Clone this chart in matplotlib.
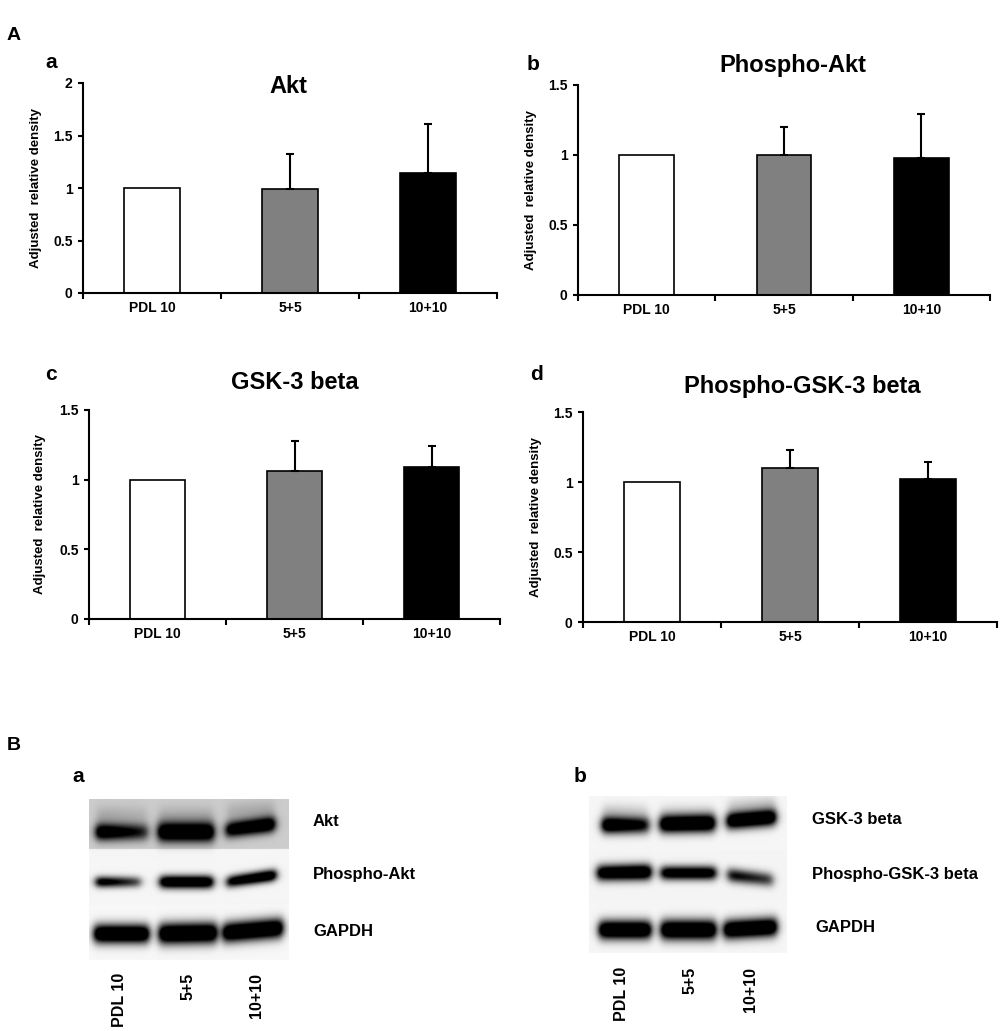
import numpy as np
import matplotlib
matplotlib.use('Agg')
import matplotlib.pyplot as plt
from matplotlib.ticker import FuncFormatter

plt.rcParams['font.family'] = ['Liberation Sans', 'DejaVu Sans']
plt.rcParams['font.weight'] = 'bold'

W, H = 1000, 1031

# ---- densitometry data (mean, upper error) ----
groups = ['PDL 10', '5+5', '10+10']
akt = [1.00, 0.99, 1.14]
akt_sd = [0, 0.33, 0.47]
p_akt = [1.00, 1.00, 0.98]
p_akt_sd = [0, 0.20, 0.31]
gsk = [1.00, 1.06, 1.09]
gsk_sd = [0, 0.22, 0.155]
p_gsk = [1.00, 1.10, 1.02]
p_gsk_sd = [0, 0.13, 0.125]

bar_colors = ['white', '#808080', 'black']

# ---- western blot band darkness (left end, right end) per lane ----
blot_a_labels = ['Akt', 'Phospho-Akt', 'GAPDH']
blot_b_labels = ['GSK-3 beta', 'Phospho-GSK-3 beta', 'GAPDH']
akt_band = [(1.0, 0.55), (1.0, 1.0), (0.9, 1.0)]
p_akt_band = [(0.85, 0.45), (0.95, 0.95), (0.8, 1.0)]
gapdh_a_band = [(1.0, 1.0), (1.0, 1.0), (1.0, 1.0)]
gsk_band = [(1.0, 0.7), (1.0, 1.0), (1.0, 1.0)]
p_gsk_band = [(0.9, 1.0), (0.85, 0.85), (0.7, 0.5)]
gapdh_b_band = [(1.0, 1.0), (1.0, 1.0), (1.0, 1.0)]


def px_rect(x0, y0, x1, y1):
    return [x0 / W, 1 - y1 / H, (x1 - x0) / W, (y1 - y0) / H]


fig = plt.figure(figsize=(10, 10.31), dpi=100)


def bar_panel(rect, title, means, errs, ymax, title_xy, label_x):
    ax = fig.add_axes(rect)
    x = np.arange(len(groups))
    ax.bar(x, means, width=0.4, color=bar_colors, edgecolor='black',
           linewidth=1.2, zorder=2)
    for xi, m, e in zip(x, means, errs):
        if e > 0:
            ax.errorbar(xi, m, yerr=[[0], [e]], fmt='none', ecolor='black',
                        elinewidth=1.5, capsize=3, capthick=1.5, zorder=3)
    ax.set_xlim(-0.5, 2.5)
    ax.set_ylim(0, ymax)
    ax.set_yticks(np.arange(0, ymax + 0.01, 0.5))
    ax.yaxis.set_major_formatter(FuncFormatter(lambda v, p: f'{v:g}'))
    ax.set_xticks(x)
    ax.set_xticklabels(groups)
    ax.set_xticks([-0.5, 0.5, 1.5, 2.5], minor=True)
    ax.tick_params(axis='x', which='major', length=0, pad=6, labelsize=10)
    ax.tick_params(axis='x', which='minor', length=4, width=1.5, direction='out')
    ax.tick_params(axis='y', length=3.5, width=1.5, pad=4, labelsize=10)
    for s in ['top', 'right']:
        ax.spines[s].set_visible(False)
    for s in ['left', 'bottom']:
        ax.spines[s].set_linewidth(1.5)
    ax.set_ylabel('Adjusted  relative density', fontsize=9.5, fontweight='bold')
    ax.yaxis.set_label_coords(label_x, 0.5)
    ax.text(title_xy[0], title_xy[1], title, transform=ax.transAxes,
            ha='center', va='baseline', fontsize=17, fontweight='bold')
    return ax


bar_panel(px_rect(83, 83, 497, 293), 'Akt', akt, akt_sd, 2.0, (0.495, 0.952), -0.099)
bar_panel(px_rect(578, 85, 990, 295), 'Phospho-Akt', p_akt, p_akt_sd, 1.5, (0.522, 1.062), -0.10)
bar_panel(px_rect(89, 410, 500, 619), 'GSK-3 beta', gsk, gsk_sd, 1.5, (0.50, 1.10), -0.105)
bar_panel(px_rect(583, 412, 997, 622), 'Phospho-GSK-3 beta', p_gsk, p_gsk_sd, 1.5, (0.529, 1.09), -0.099)

# panel letters
for txt, x, y, fs in [('A', 7, 40, 14), ('a', 45, 68, 15), ('b', 527, 70, 15),
                      ('c', 45, 380, 15), ('d', 530, 380, 15), ('B', 7, 750, 14),
                      ('a', 72, 782, 15), ('b', 574, 782, 15)]:
    fig.text(x / W, 1 - y / H, txt, ha='left', va='baseline', fontsize=fs,
             fontweight='bold')


def draw_blot(box, row_bounds, row_bg, geoms, darkness, haze=()):
    x0, y0, x1, y1 = box
    ax = fig.add_axes(px_rect(x0, y0, x1, y1))
    xs = np.linspace(x0, x1, int((x1 - x0) * 3))
    ys = np.linspace(y0, y1, int((y1 - y0) * 3))
    X, Y = np.meshgrid(xs, ys)
    bg = np.full(X.shape, 0.97)
    for (ra, rb), b in zip(row_bounds, row_bg):
        bg[(Y >= ra) & (Y < rb)] = b
    ink = np.zeros(X.shape)
    for (xa, xb, ya, yb, th), (da, db) in list(zip(geoms, darkness)) + list(haze):
        t = np.clip((X - xa) / (xb - xa), 0, 1)
        yc = ya + (yb - ya) * t
        d = da + (db - da) * t
        hx = 0.5 * (np.tanh((X - xa) / 4.5) - np.tanh((X - xb) / 4.5))
        hy = np.exp(-np.abs((Y - yc) / (th / 2.0)) ** 2.0)
        ink += d * hx * hy
    img = bg * (1 - np.clip(ink * 1.5, 0, 1))
    ax.imshow(img, cmap='gray', vmin=0, vmax=1, extent=(x0, x1, y1, y0),
              aspect='auto', interpolation='bilinear')
    ax.set_xlim(x0, x1)
    ax.set_ylim(y1, y0)
    ax.axis('off')


# blot a geometry (figure pixels): xa, xb, y_left, y_right, thickness
geo_a = [(96, 148, 832, 832, 17), (158, 214, 832, 832, 20), (226, 275, 830, 824, 16),
         (96, 141, 882, 882, 11), (160, 213, 882, 882, 13), (227, 276, 882, 875, 12),
         (94, 149, 934, 934, 19), (159, 217, 934, 933, 21), (223, 283, 933, 928, 20)]
haze_a = [((97, 147, 816, 816, 20), (0.12, 0.08)),
          ((159, 213, 816, 816, 20), (0.1, 0.1)),
          ((227, 274, 813, 810, 20), (0.1, 0.12))]
draw_blot((89, 799, 289, 960), [(799, 849), (849, 905), (905, 960)],
          [0.80, 0.965, 0.97], geo_a, akt_band + p_akt_band + gapdh_a_band, haze_a)

geo_b = [(602, 649, 825, 825, 17), (660, 715, 824, 823, 18), (727, 776, 821, 817, 17),
         (597, 651, 873, 872, 16), (661, 716, 873, 873, 14), (728, 773, 875, 880, 14),
         (599, 651, 930, 930, 19), (661, 716, 930, 930, 20), (724, 777, 930, 927, 19)]
haze_b = [((603, 648, 811, 811, 16), (0.12, 0.08)),
          ((661, 714, 811, 811, 16), (0.06, 0.06)),
          ((728, 775, 806, 803, 16), (0.1, 0.12))]
draw_blot((589, 796, 787, 953), [(796, 850), (850, 903), (903, 953)],
          [0.965, 0.96, 0.965], geo_b, gsk_band + p_gsk_band + gapdh_b_band, haze_b)

# blot labels
for txt, x, y in zip(blot_a_labels, [313, 313, 313], [822, 875, 931]):
    fig.text(x / W, 1 - y / H, txt, ha='left', va='center', fontsize=12, fontweight='bold')
for txt, x, y in zip(blot_b_labels, [812, 812, 815], [820, 875, 927]):
    fig.text(x / W, 1 - y / H, txt, ha='left', va='center', fontsize=12, fontweight='bold')

for g, x in zip(groups, [120, 188, 257]):
    fig.text(x / W, 1 - 973 / H, g, rotation=90, ha='center', va='top',
             fontsize=11.5, fontweight='bold')
for g, x in zip(groups, [622, 690, 750]):
    fig.text(x / W, 1 - 967 / H, g, rotation=90, ha='center', va='top',
             fontsize=11.5, fontweight='bold')

fig.savefig('out.png', dpi=100)
